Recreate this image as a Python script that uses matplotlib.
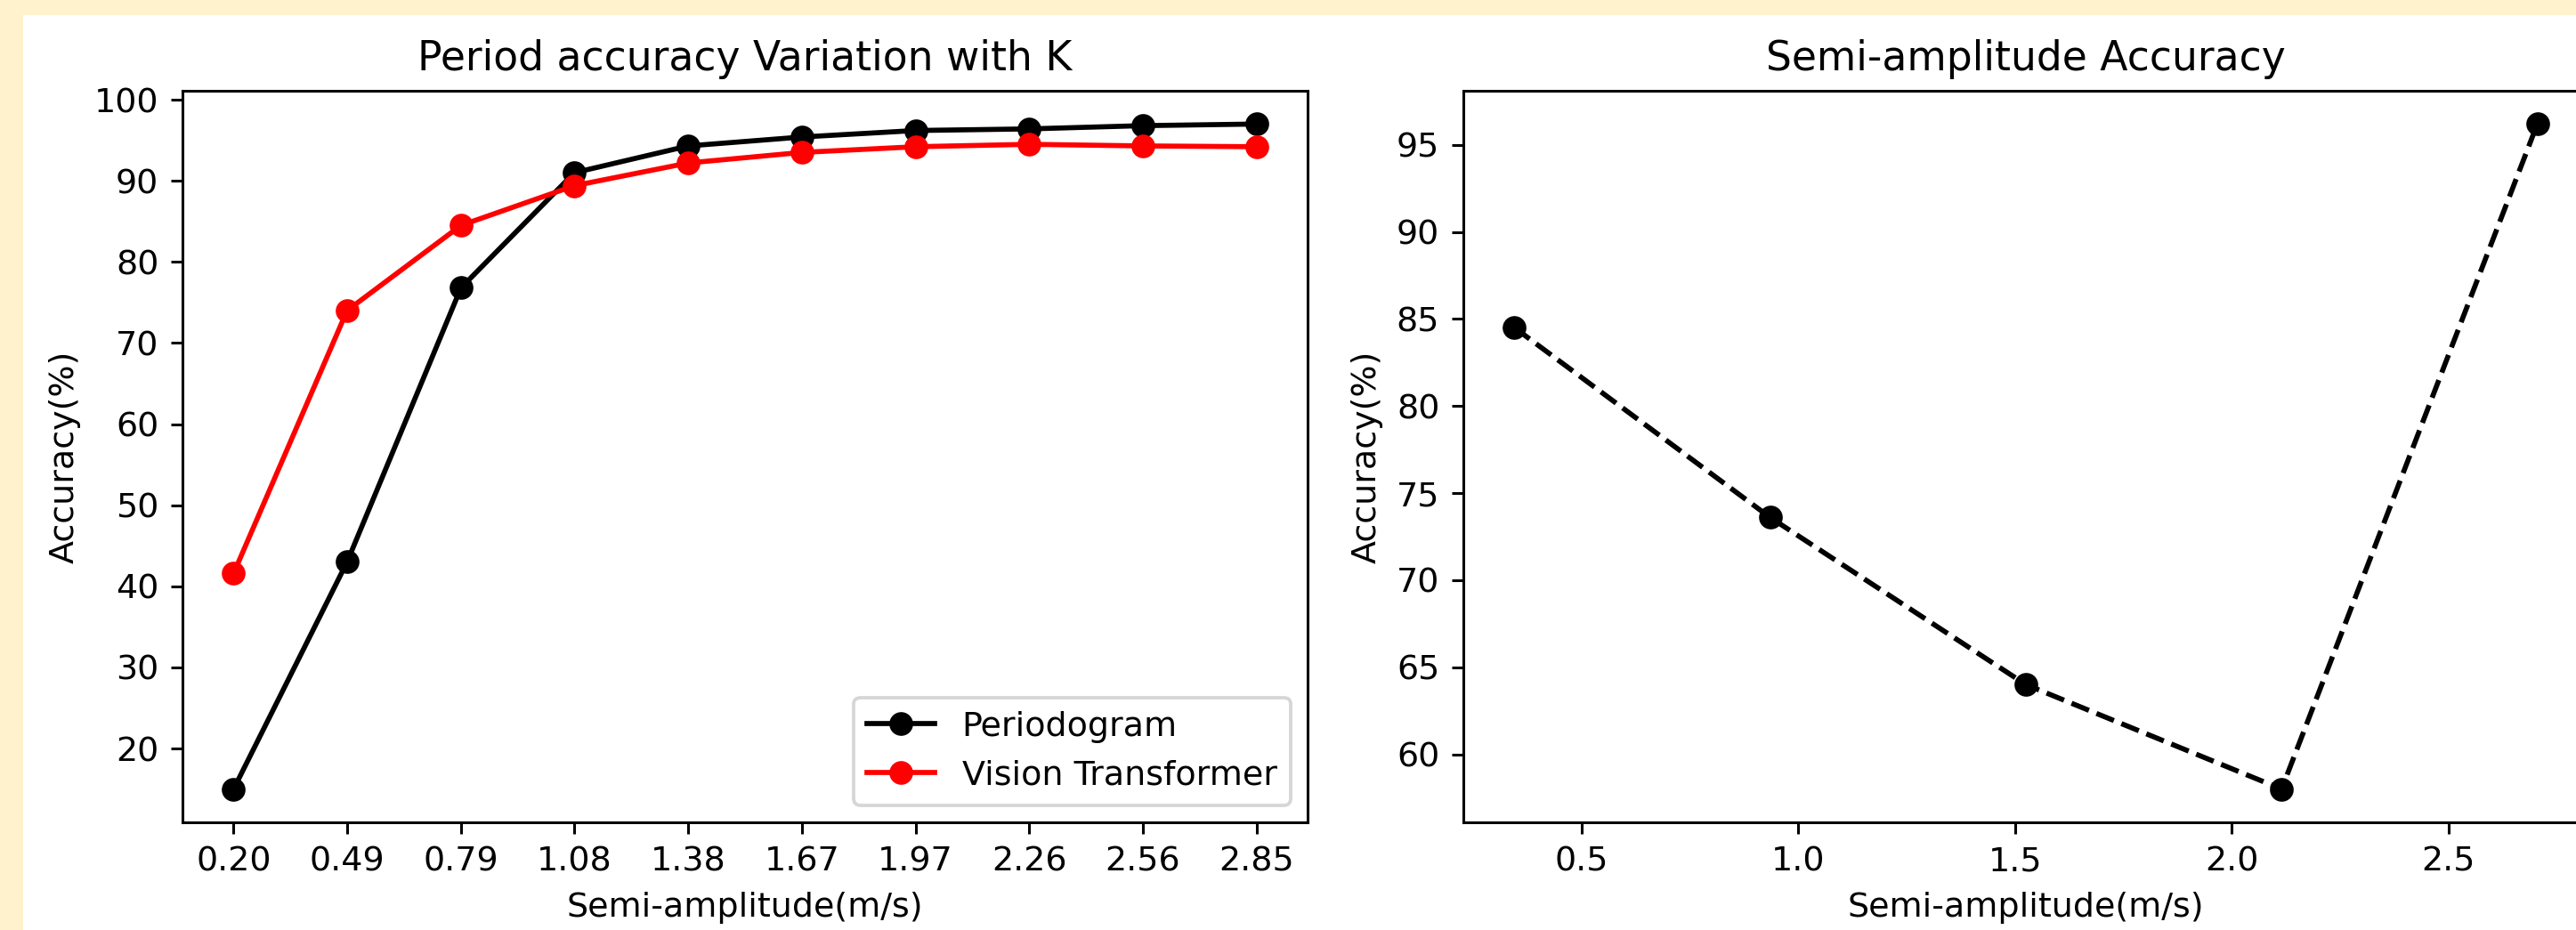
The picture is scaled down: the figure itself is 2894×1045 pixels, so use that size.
import matplotlib
matplotlib.use("Agg")
import matplotlib.pyplot as plt
from matplotlib.patches import Rectangle
from matplotlib.ticker import MultipleLocator

# ---- data ----
k_values = [0.20, 0.494, 0.789, 1.083, 1.378, 1.672, 1.967, 2.261, 2.556, 2.85]
k_labels = ["0.20", "0.49", "0.79", "1.08", "1.38", "1.67", "1.97", "2.26", "2.56", "2.85"]
periodogram_acc = [15.0, 43.0, 76.8, 91.0, 94.3, 95.4, 96.2, 96.4, 96.8, 97.0]
vit_acc = [41.6, 74.0, 84.5, 89.4, 92.2, 93.5, 94.2, 94.5, 94.3, 94.2]

semi_amp_centers = [0.345, 0.935, 1.525, 2.115, 2.705]
semi_amp_acc = [84.5, 73.6, 64.0, 58.0, 96.2]

# ---- figure ----
W, H = 2894, 1045
DPI = 274
fig = plt.figure(figsize=(W / DPI, H / DPI), dpi=DPI)
fig.patch.set_facecolor("#FFF2CC")
bg = Rectangle((26 / W, 0), 1 - 26 / W, (H - 17) / H,
               transform=fig.transFigure, facecolor="white",
               edgecolor="none", zorder=-10)
fig.patches.append(bg)

ax_w = 1264 / W
ax_b = (H - 924) / H
ax_h = (924 - 102) / H

ax1 = fig.add_axes([205 / W, ax_b, ax_w, ax_h])
ax1.plot(k_values, periodogram_acc, "-o", color="black", label="Periodogram")
ax1.plot(k_values, vit_acc, "-o", color="red", label="Vision Transformer")
ax1.set_xticks(k_values)
ax1.set_xticklabels(k_labels)
ax1.yaxis.set_major_locator(MultipleLocator(10))
ax1.set_title("Period accuracy Variation with K")
ax1.set_xlabel("Semi-amplitude(m/s)")
ax1.set_ylabel("Accuracy(%)")
ax1.legend(loc="lower right")

ax2 = fig.add_axes([1644 / W, ax_b, ax_w, ax_h])
ax2.plot(semi_amp_centers, semi_amp_acc, "--o", color="black")
ax2.set_title("Semi-amplitude Accuracy")
ax2.set_xlabel("Semi-amplitude(m/s)")
ax2.set_ylabel("Accuracy(%)")

fig.savefig("out.png", dpi=DPI, facecolor=fig.get_facecolor())
